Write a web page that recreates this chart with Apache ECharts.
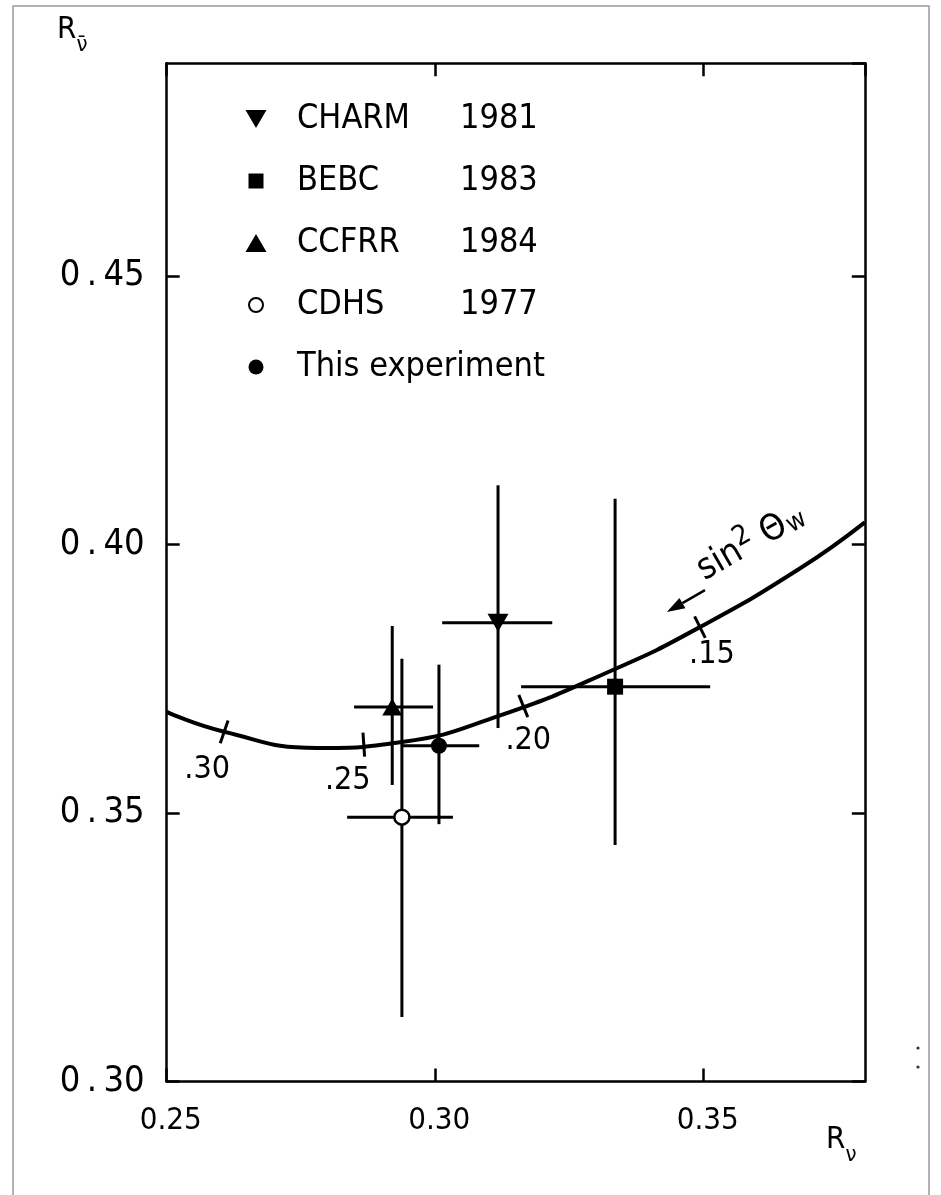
<!DOCTYPE html>
<html><head><meta charset="utf-8">
<script src="https://cdn.jsdelivr.net/npm/echarts@6/dist/echarts.min.js"></script>
<style>html,body{margin:0;padding:0;background:#fff;}#c{width:941px;height:1195px;}</style>
</head><body><div id="c"></div>
<script>
const FONT = "'Liberation Sans Narrow','DejaVu Sans Condensed','Roboto Condensed','Liberation Sans',sans-serif";

// axis ticks
const xTicks = [0.25, 0.30, 0.35];
const yTicks = [0.30, 0.35, 0.40, 0.45];

// experiments
const expNames   = ['CHARM', 'BEBC', 'CCFRR', 'CDHS', 'This experiment'];
const expYears   = ['1981', '1983', '1984', '1977', ''];
const expRnu     = [0.3117, 0.3335, 0.2920, 0.2938, 0.3007];
const expRnubar  = [0.3854, 0.3735, 0.3697, 0.3492, 0.3625];
const expRnuLo   = [0.3013, 0.3160, 0.2849, 0.2836, 0.2938];
const expRnuHi   = [0.3218, 0.3512, 0.2996, 0.3033, 0.3082];
const expRbarLo  = [0.3658, 0.3440, 0.3552, 0.3120, 0.3479];
const expRbarHi  = [0.4110, 0.4085, 0.3848, 0.3787, 0.3776];

// theory curve (parametrised by sin^2 theta_W)
const curveRnu    = [0.2500, 0.2607, 0.2780, 0.2938, 0.3117, 0.3335, 0.3493, 0.3679, 0.3800];
const curveRnubar = [0.3688, 0.3651, 0.3621, 0.3632, 0.3680, 0.3768, 0.3846, 0.3955, 0.4041];

// sin^2 theta_W marks along the curve
const sinLabels = ['.30', '.25', '.20', '.15'];
const sinRnu    = [0.2607, 0.2867, 0.3164, 0.3493];
const sinRnubar = [0.3651, 0.3627, 0.3699, 0.3846];

// layout (pixel offsets of the mark labels from their marks)
const sinLabelOffset = [[-17, 38], [-16, 36], [5, 35], [12, 28]];

const chart = echarts.init(document.getElementById('c'), null, {renderer: 'canvas'});

function tangentAt(api, x) {
  let i = 0;
  while (i < curveRnu.length - 2 && curveRnu[i + 1] < x) i++;
  const a = api.coord([curveRnu[i], curveRnubar[i]]);
  const b = api.coord([curveRnu[i + 1], curveRnubar[i + 1]]);
  const dx = b[0] - a[0], dy = b[1] - a[1];
  const L = Math.hypot(dx, dy);
  return [dx / L, dy / L];
}

const symbols = ['path://M0,0M22,22M0.5,2H21.5L11,20Z',
                 'path://M0,0M22,22M3.5,3.5h15v15h-15z',
                 'path://M0,0M22,22M0.5,20H21.5L11,2Z',
                 'path://M0,0M22,22M4,11a7,7 0 1,0 14,0a7,7 0 1,0 -14,0z',
                 'path://M0,0M22,22M3.5,11a7.5,7.5 0 1,0 15,0a7.5,7.5 0 1,0 -15,0z'];
const chartSymbols = ['path://M0,0L20,0L10,17Z', 'rect', 'path://M0,17L20,17L10,0Z', 'circle', 'circle'];
const chartSizes = [[21, 18], 16, [20, 17], 15, 16];

const scatterSeries = expNames.map((n, i) => ({
  name: n,
  type: 'scatter',
  data: [[expRnu[i], expRnubar[i]]],
  symbol: chartSymbols[i],
  symbolSize: chartSizes[i],
  z: 5,
  itemStyle: i === 3 ? {color: '#fff', borderColor: '#000', borderWidth: 2.5, opacity: 1}
                     : {color: '#000', opacity: 1}
}));

const richLeg = {fontSize: 34, fontFamily: FONT, color: '#000'};
const axisNameRich = {
  r: {fontSize: 31, fontFamily: FONT, fill: '#000', verticalAlign: 'top', lineHeight: 34},
  v: {fontSize: 22, fontFamily: FONT, fill: '#000', verticalAlign: 'bottom', lineHeight: 42}
};

const option = {
  backgroundColor: '#fff',
  animation: false,
  textStyle: {fontFamily: FONT},
  grid: {left: 166.7, right: 76.2, top: 63.2, bottom: 113.6},
  legend: {
    orient: 'vertical', left: 239, top: 97,
    itemWidth: 22, itemHeight: 22, itemGap: 28,
    selectedMode: false,
    data: expNames.map((n, i) => ({name: n, icon: symbols[i]})),
    formatter: name => {
      const i = expNames.indexOf(name);
      return expYears[i] ? `{n|${name}}{y|${expYears[i]}}` : `{w|${name}}`;
    },
    textStyle: {
      fontFamily: FONT, fontSize: 34, color: '#000', padding: [0, 0, 0, 25],
      rich: {n: Object.assign({width: 163}, richLeg), y: richLeg, w: richLeg}
    }
  },
  xAxis: [{
    type: 'value', min: 0.25, max: 0.38, interval: 0.05,
    axisLine: {lineStyle: {color: '#000', width: 2.5}},
    axisTick: {inside: true, length: 13, lineStyle: {color: '#000', width: 2.5}},
    splitLine: {show: false},
    axisLabel: {
      margin: 24, fontSize: 31, fontFamily: FONT, color: '#000', showMaxLabel: false, padding: [0, 0, 0, 8],
      formatter: v => xTicks.some(t => Math.abs(t - v) < 1e-6) ? v.toFixed(2) : ''
    }
  }, {
    type: 'value', position: 'top', min: 0.25, max: 0.38, interval: 0.05,
    axisLine: {show: true, lineStyle: {color: '#000', width: 2.5}},
    axisTick: {inside: true, length: 13, lineStyle: {color: '#000', width: 2.5}},
    axisLabel: {show: false}, splitLine: {show: false}
  }],
  yAxis: [{
    type: 'value', min: 0.30, max: 0.4896, interval: 0.05,
    axisLine: {show: true, lineStyle: {color: '#000', width: 2.5}},
    axisTick: {inside: true, length: 13, lineStyle: {color: '#000', width: 2.5}},
    splitLine: {show: false},
    axisLabel: {
      margin: 22, fontSize: 36, fontFamily: FONT, color: '#000', showMaxLabel: false,
      formatter: v => yTicks.some(t => Math.abs(t - v) < 1e-6) ? v.toFixed(2).replace('.', '\u2009.\u2009') : ''
    }
  }, {
    type: 'value', position: 'right', min: 0.30, max: 0.4896, interval: 0.05,
    axisLine: {show: true, lineStyle: {color: '#000', width: 2.5}},
    axisTick: {inside: true, length: 13, lineStyle: {color: '#000', width: 2.5}},
    axisLabel: {show: false}, splitLine: {show: false}
  }],
  series: [
    {
      name: 'curve', type: 'line', smooth: 0.5,
      showSymbol: false, symbol: 'none', z: 2,
      lineStyle: {color: '#000', width: 4},
      data: curveRnu.map((x, i) => [x, curveRnubar[i]])
    },
    {
      name: 'sinmarks', type: 'custom', z: 3,
      data: sinRnu.map((x, i) => [x, sinRnubar[i]]),
      renderItem: (params, api) => {
        const i = params.dataIndex;
        const p = api.coord([api.value(0), api.value(1)]);
        const t = tangentAt(api, api.value(0));
        const n = [-t[1], t[0]];
        const h = 12;
        const off = sinLabelOffset[i];
        return {type: 'group', children: [
          {type: 'line', shape: {x1: p[0] - n[0] * h, y1: p[1] - n[1] * h, x2: p[0] + n[0] * h, y2: p[1] + n[1] * h},
           style: {stroke: '#000', lineWidth: 3}},
          {type: 'text', x: p[0] + off[0], y: p[1] + off[1],
           style: {text: sinLabels[i], fontSize: 32, fontFamily: FONT, fill: '#000', align: 'center', verticalAlign: 'middle'}}
        ]};
      }
    },
    {
      name: 'sinlabel', type: 'custom', z: 3,
      data: [[sinRnu[3], sinRnubar[3]]],
      renderItem: (params, api) => {
        const p = api.coord([api.value(0), api.value(1)]);
        const tail = [p[0] + 5, p[1] - 37];
        const ang = Math.PI / 6;
        const d = [-Math.cos(ang), Math.sin(ang)];
        const len = 44, hl = 18, hw = 6;
        const tip = [tail[0] + d[0] * len, tail[1] + d[1] * len];
        const base = [tip[0] - d[0] * hl, tip[1] - d[1] * hl];
        const nn = [-d[1], d[0]];
        return {type: 'group', children: [
          {type: 'line', shape: {x1: tail[0], y1: tail[1], x2: base[0], y2: base[1]}, style: {stroke: '#000', lineWidth: 2.5}},
          {type: 'polygon', shape: {points: [tip, [base[0] + nn[0] * hw, base[1] + nn[1] * hw], [base[0] - nn[0] * hw, base[1] - nn[1] * hw]]},
           style: {fill: '#000'}},
          {type: 'text', x: tail[0] + 4, y: tail[1] - 2, rotation: ang,
           style: {
             text: '{a|sin}{s|2}{a| Θ}{b|w}', align: 'left', verticalAlign: 'bottom',
             rich: {
               a: {fontSize: 36, fontFamily: FONT, fill: '#000', lineHeight: 42, verticalAlign: 'bottom'},
               s: {fontSize: 28, fontFamily: FONT, fill: '#000', lineHeight: 42, verticalAlign: 'top'},
               b: {fontSize: 26, fontFamily: FONT, fill: '#000', lineHeight: 34, verticalAlign: 'bottom', padding: [0, 0, 0, 1]}
             }
           }}
        ]};
      }
    },
    {
      name: 'errors', type: 'custom', z: 4,
      data: expRnu.map((x, i) => [x, expRnubar[i], expRnuLo[i], expRnuHi[i], expRbarLo[i], expRbarHi[i]]),
      renderItem: (params, api) => {
        const x = api.value(0), y = api.value(1);
        const l = api.coord([api.value(2), y]), r = api.coord([api.value(3), y]);
        const b = api.coord([x, api.value(4)]), t = api.coord([x, api.value(5)]);
        return {type: 'group', children: [
          {type: 'line', shape: {x1: l[0], y1: l[1], x2: r[0], y2: r[1]}, style: {stroke: '#000', lineWidth: 3}},
          {type: 'line', shape: {x1: b[0], y1: b[1], x2: t[0], y2: t[1]}, style: {stroke: '#000', lineWidth: 3}}
        ]};
      }
    },
    ...scatterSeries
  ],
  graphic: [
    {type: 'rect', shape: {x: 13, y: 6, width: 916, height: 1210}, style: {fill: 'none', stroke: '#999', lineWidth: 1.5}, silent: true},
    {type: 'circle', shape: {cx: 918, cy: 1048, r: 1.6}, style: {fill: '#333'}, silent: true},
    {type: 'circle', shape: {cx: 918, cy: 1067, r: 1.6}, style: {fill: '#333'}, silent: true},
    {type: 'text', left: 57, top: 14, style: {text: '{r|R}{v|ν̄}', rich: axisNameRich}},
    {type: 'text', left: 826, top: 1124, style: {text: '{r|R}{v|ν}', rich: axisNameRich}}
  ]
};
chart.setOption(option);
</script>
</body></html>
